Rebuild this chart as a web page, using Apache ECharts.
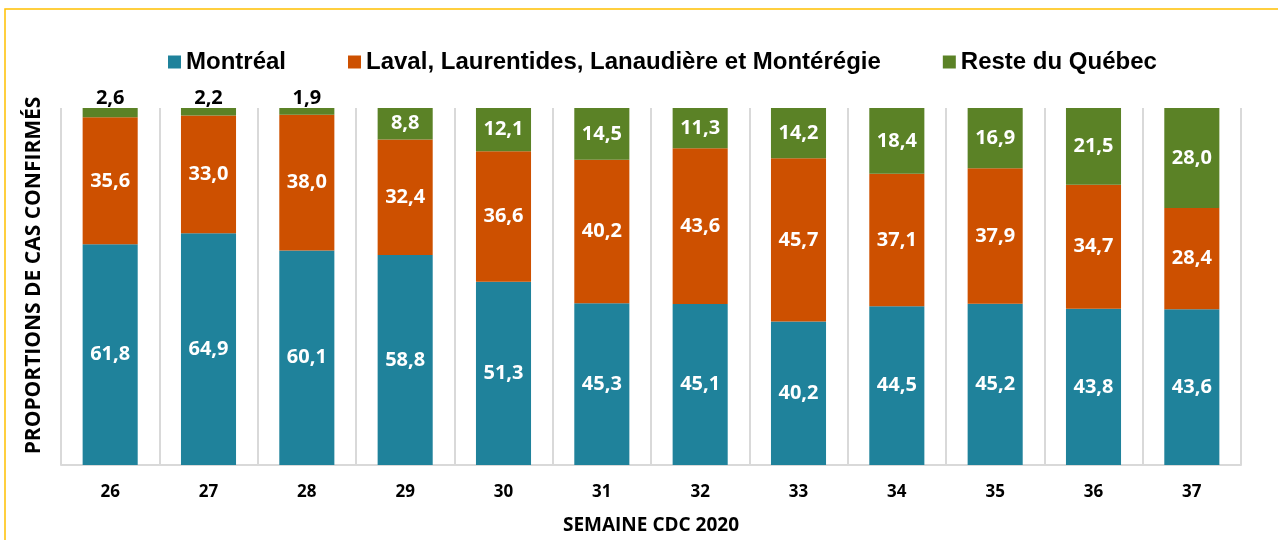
<!DOCTYPE html>
<html>
<head>
<meta charset="utf-8">
<script src="https://cdn.jsdelivr.net/npm/echarts@6/dist/echarts.min.js"></script>
<style>
  html, body { margin: 0; padding: 0; background: #fff; }
  #chart { width: 1278px; height: 540px; }
</style>
</head>
<body>
<div id="chart"></div>
<script>
  // semaines CDC
  var semaines = ['26', '27', '28', '29', '30', '31', '32', '33', '34', '35', '36', '37'];
  var montreal = [61.8, 64.9, 60.1, 58.8, 51.3, 45.3, 45.1, 40.2, 44.5, 45.2, 43.8, 43.6];
  var laval = [35.6, 33.0, 38.0, 32.4, 36.6, 40.2, 43.6, 45.7, 37.1, 37.9, 34.7, 28.4];
  var reste = [2.6, 2.2, 1.9, 8.8, 12.1, 14.5, 11.3, 14.2, 18.4, 16.9, 21.5, 28.0];
  var noms = ['Montréal', 'Laval, Laurentides, Lanaudière et Montérégie', 'Reste du Québec'];

  var couleurs = ['#1f829b', '#cd5000', '#5b8226'];

  function virgule(p) {
    return p.value.toFixed(1).replace('.', ',');
  }

  var labelBlanc = {
    show: true,
    position: 'inside',
    color: '#fff',
    fontFamily: 'Open Sans',
    fontWeight: 'bold',
    fontSize: 20,
    formatter: virgule
  };

  // les petites valeurs vertes sont affichées au-dessus de la barre
  var resteData = reste.map(function (v) {
    if (v < 5) {
      return { value: v, label: { position: 'top', color: '#000', distance: 0 } };
    }
    return v;
  });

  var myChart = echarts.init(document.getElementById('chart'));
  var option = {
    animation: false,
    color: couleurs,
    graphic: [{
      type: 'rect',
      shape: { x: 5, y: 9, width: 1400, height: 700 },
      style: { fill: 'none', stroke: '#ffc000', lineWidth: 1.5 }
    }],
    legend: {
      data: noms,
      left: 163,
      top: 45,
      itemWidth: 13,
      itemHeight: 13,
      itemGap: 62,
      icon: 'rect',
      textStyle: {
        fontFamily: 'Liberation Sans',
        fontWeight: 'bold',
        fontSize: 24,
        color: '#000'
      }
    },
    grid: {
      left: 61,
      right: 37,
      top: 108,
      bottom: 75,
      outerBoundsMode: 'none'
    },
    xAxis: {
      type: 'category',
      data: semaines,
      name: 'SEMAINE CDC 2020',
      nameLocation: 'middle',
      nameGap: 51,
      nameTextStyle: {
        fontFamily: 'Open Sans',
        fontWeight: 'bold',
        fontSize: 19,
        color: '#000'
      },
      axisLine: { lineStyle: { color: '#d9d9d9', width: 2 } },
      axisTick: { show: false },
      axisLabel: {
        margin: 19,
        fontFamily: 'Open Sans',
        fontWeight: 'bold',
        fontSize: 17,
        color: '#000'
      },
      splitLine: { show: true, interval: 0, lineStyle: { color: '#d9d9d9', width: 2 } }
    },
    yAxis: {
      type: 'value',
      min: 0,
      max: 100,
      name: 'PROPORTIONS DE CAS CONFIRMÉS',
      nameLocation: 'middle',
      nameGap: 16,
      nameTextStyle: {
        fontFamily: 'Open Sans',
        fontWeight: 'bold',
        fontSize: 21,
        color: '#000',
        padding: [0, 0, 0, 22]
      },
      axisLine: { show: false },
      axisTick: { show: false },
      axisLabel: { show: false },
      splitLine: { show: false }
    },
    series: [
      {
        name: noms[0],
        type: 'bar',
        stack: 'total',
        barWidth: '56%',
        data: montreal,
        label: labelBlanc
      },
      {
        name: noms[1],
        type: 'bar',
        stack: 'total',
        barWidth: '56%',
        data: laval,
        label: labelBlanc
      },
      {
        name: noms[2],
        type: 'bar',
        stack: 'total',
        barWidth: '56%',
        data: resteData,
        label: labelBlanc
      }
    ]
  };
  myChart.setOption(option);
</script>
</body>
</html>
